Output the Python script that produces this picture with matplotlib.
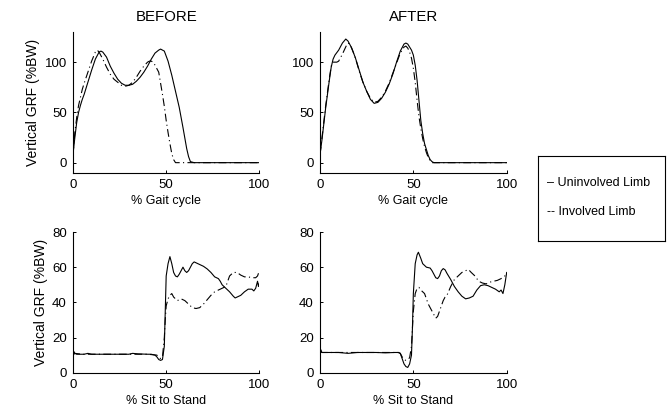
import matplotlib
matplotlib.use("Agg")
import matplotlib.pyplot as plt

plt.rcParams['font.family'] = ['Liberation Sans', 'DejaVu Sans']
plt.rcParams['font.size'] = 9

# Gait, BEFORE
gb_x_uninv = [0, 1, 2, 3, 4, 5, 6, 8, 10, 12, 14, 15, 16, 18, 20, 22, 24, 26, 28, 30, 32, 34, 36, 38, 40,
              42, 44, 46, 47, 48, 49, 51, 53, 55, 57, 59, 61, 62, 63, 65, 70, 80, 90, 100]
gb_y_uninv = [8, 25, 40, 50, 57, 63, 68, 80, 92, 103, 110, 111, 110, 105, 96, 89, 83, 79, 77, 77, 78, 81, 85, 90, 96,
              103, 109, 112, 113, 112, 111, 101, 87, 71, 55, 35, 14, 6, 1, 0, 0, 0, 0, 0]
gb_x_inv = [0, 1, 2, 3, 4, 5, 6, 8, 10, 12, 13, 14, 16, 18, 20, 22, 24, 26, 28, 30, 32, 34, 36, 38, 40, 41, 42,
            43, 44, 46, 48, 49, 50, 51, 52, 53, 54, 55, 60, 70, 80, 90, 100]
gb_y_inv = [8, 30, 45, 57, 65, 73, 79, 90, 101, 110, 112, 110, 103, 95, 88, 83, 80, 77, 76, 77, 80, 85, 91, 96, 100, 101, 101,
            100, 97, 90, 68, 56, 42, 30, 19, 9, 3, 0, 0, 0, 0, 0, 0]

# Gait, AFTER
ga_x_uninv = [0, 1, 2, 3, 4, 5, 6, 7, 8, 10, 12, 13.8, 15, 17, 19, 21, 23, 25, 27, 29, 31, 33, 35, 37, 39, 41, 43,
              45, 46, 47, 49, 50, 51, 52, 53, 54, 55, 56, 57, 58, 59, 60, 61, 70, 80, 90, 100]
ga_y_uninv = [8, 22, 38, 54, 68, 82, 95, 103, 107, 112, 119, 123, 121, 114, 104, 92, 80, 71, 63, 59, 60, 64, 70, 78, 88, 100, 111,
              118, 119, 118, 112, 107, 97, 82, 62, 42, 29, 19, 13, 7, 3, 1, 0, 0, 0, 0, 0]
ga_x_inv = [0, 1, 2, 3, 4, 5, 6, 7, 8, 9, 10, 12, 14, 15, 16, 18, 19, 21, 23, 25, 27, 29, 31, 33, 35, 37, 39, 41,
            43, 45, 46, 47, 48, 49, 50, 51, 52, 53, 54, 55, 56, 57, 58, 59, 60, 70, 80, 90, 100]
ga_y_inv = [8, 24, 40, 56, 70, 84, 96, 100, 100, 100, 101, 108, 116, 119, 118, 109, 104, 91, 80, 71, 64, 60, 61, 65, 71, 79, 89, 99,
            109, 115, 116, 114, 110, 104, 94, 80, 62, 46, 34, 24, 16, 10, 5, 2, 0, 0, 0, 0, 0]

# Sit to stand, BEFORE
sb_x_uninv = [0, 0.5, 1, 2, 4, 6, 8, 10, 15, 20, 25, 30, 32, 35, 40, 42, 44, 45, 46, 47, 48, 49, 49.5, 50, 51, 52,
              53, 54, 55, 56, 57, 58, 59, 60, 61, 62, 63, 64, 65, 66, 68, 70, 72, 74, 76, 77, 78, 79, 80, 82,
              84, 86, 87, 88, 90, 92, 94, 96, 97, 98, 99, 99.5, 100]
sb_y_uninv = [10, 12, 11, 10.5, 10.5, 10.5, 11, 10.5, 10.5, 10.5, 10.5, 10.5, 11, 10.7, 10.5, 10.5, 10, 9, 7.5, 7, 7.5, 15, 35, 55, 62, 66,
              62, 57, 55, 54.5, 56, 58, 60, 58, 57, 58, 60, 62, 63, 62.5, 61.5, 60.5, 59, 57, 54.5, 54, 53.5, 52, 50, 48,
              46, 43.5, 42.5, 43, 44, 46, 47.5, 47.5, 46.5, 48, 52, 49, 51]
sb_x_inv = [0, 1, 5, 10, 15, 20, 25, 30, 35, 40, 45, 46, 47, 48, 49, 49.5, 50, 51, 52, 53, 54, 55, 56, 58, 60, 62,
            64, 66, 68, 70, 72, 74, 76, 78, 80, 82, 84, 86, 88, 90, 92, 94, 96, 98, 99, 100]
sb_y_inv = [10, 11, 10.5, 10.5, 10.5, 10.5, 10.5, 10.5, 10.5, 10.5, 10, 9, 8, 9, 20, 30, 38, 42, 44, 45, 43, 42, 41, 42, 41, 39,
            37, 36.5, 37, 39, 41.5, 44, 46, 47, 48, 49, 55, 57, 57, 55.5, 54.5, 54.5, 54, 54, 55, 58]

# Sit to stand, AFTER
sa_x_uninv = [0, 0.5, 1, 5, 10, 15, 20, 25, 30, 35, 40, 42, 43, 44, 45, 46, 47, 48, 49, 49.5, 50, 51, 52, 52.7, 54,
              55, 57, 59, 60, 61, 62, 63, 64, 65, 66, 67, 68, 70, 72, 74, 76, 78, 80, 82, 84, 86, 88, 90, 92,
              94, 96, 97, 98, 99, 100]
sa_y_uninv = [12, 13, 11.5, 11.5, 11.5, 11, 11.5, 11.5, 11.5, 11.3, 11.5, 11.5, 11, 8, 5, 3.5, 3, 5, 10, 25, 45, 62, 67, 68.5, 65,
              62, 60, 59.5, 58, 56, 54, 53.5, 55, 58, 59.2, 58.5, 56.5, 53, 49, 46, 43.5, 42, 42.5, 43.5, 47, 49.5, 50, 49.5, 48.5,
              47.5, 46, 47, 45, 50, 57]
sa_x_inv = [0, 1, 5, 10, 15, 20, 25, 30, 35, 40, 42, 43, 44, 45, 46, 47, 48, 49, 50, 51, 52, 53, 54, 55, 56, 57,
            58, 59, 60, 61, 62, 63, 64, 65, 66, 67, 68, 70, 72, 74, 76, 78, 79.5, 81, 83, 85, 87, 89, 91,
            93, 95, 97, 99, 100]
sa_y_inv = [12, 11.5, 11.5, 11.5, 11.5, 11.5, 11.5, 11.5, 11.5, 11.5, 11.5, 11, 9, 7.5, 7, 7.5, 8.5, 15, 35, 45, 48, 48.5, 47, 46, 45, 42,
            39, 37, 35, 33, 31, 32, 35, 38, 41, 43, 44, 49, 53, 55, 57, 58, 58.7, 57, 55, 52, 51, 50.5, 51.5,
            52, 52.5, 53.5, 55, 56]

legend_lines = ['\u2013 Uninvolved Limb', '-- Involved Limb']

dashdot = (0, (7, 3, 1, 3))
lw = 0.8

fig = plt.figure(figsize=(6.72, 4.2), dpi=100)

ax_gb = fig.add_axes([0.1086, 0.5888, 0.2774, 0.335])
ax_ga = fig.add_axes([0.4762, 0.5888, 0.2778, 0.335])
ax_sb = fig.add_axes([0.1086, 0.1126, 0.2774, 0.335])
ax_sa = fig.add_axes([0.4762, 0.1126, 0.2778, 0.335])

panels = [
    (ax_gb, gb_x_uninv, gb_y_uninv, gb_x_inv, gb_y_inv),
    (ax_ga, ga_x_uninv, ga_y_uninv, ga_x_inv, ga_y_inv),
    (ax_sb, sb_x_uninv, sb_y_uninv, sb_x_inv, sb_y_inv),
    (ax_sa, sa_x_uninv, sa_y_uninv, sa_x_inv, sa_y_inv),
]

for ax, xu, yu, xi, yi in panels:
    ax.plot(xu, yu, color='black', lw=lw)
    ax.plot(xi, yi, color='black', lw=lw, linestyle=dashdot)
    ax.spines['top'].set_visible(False)
    ax.spines['right'].set_visible(False)
    ax.spines['left'].set_linewidth(0.8)
    ax.spines['bottom'].set_linewidth(0.8)
    ax.tick_params(direction='in', length=2.5, width=0.7, pad=4.5, labelsize=9.5)
    ax.set_xlim(0, 100)
    ax.set_xticks([0, 50, 100])

for ax in (ax_gb, ax_ga):
    ax.set_ylim(-10, 130)
    ax.set_yticks([0, 50, 100])
    ax.set_xlabel('% Gait cycle', labelpad=3)

for ax in (ax_sb, ax_sa):
    ax.set_ylim(0, 80)
    ax.set_yticks([0, 20, 40, 60, 80])
    ax.set_xlabel('% Sit to Stand', labelpad=3)

ax_gb.set_title('BEFORE', pad=8)
ax_ga.set_title('AFTER', pad=8)
ax_gb.set_ylabel('Vertical GRF (%BW)', labelpad=3, fontsize=10)
ax_sb.set_ylabel('Vertical GRF (%BW)', labelpad=3, fontsize=10)

# legend drawn as a plain text box
ax_leg = fig.add_axes([0.8006, 0.4262, 0.189, 0.2024])
ax_leg.set_xticks([])
ax_leg.set_yticks([])
for s in ax_leg.spines.values():
    s.set_linewidth(0.8)
ax_leg.text(0.07, 0.68, legend_lines[0], transform=ax_leg.transAxes, va='center', ha='left')
ax_leg.text(0.07, 0.34, legend_lines[1], transform=ax_leg.transAxes, va='center', ha='left')

fig.savefig('out.png', dpi=100)
